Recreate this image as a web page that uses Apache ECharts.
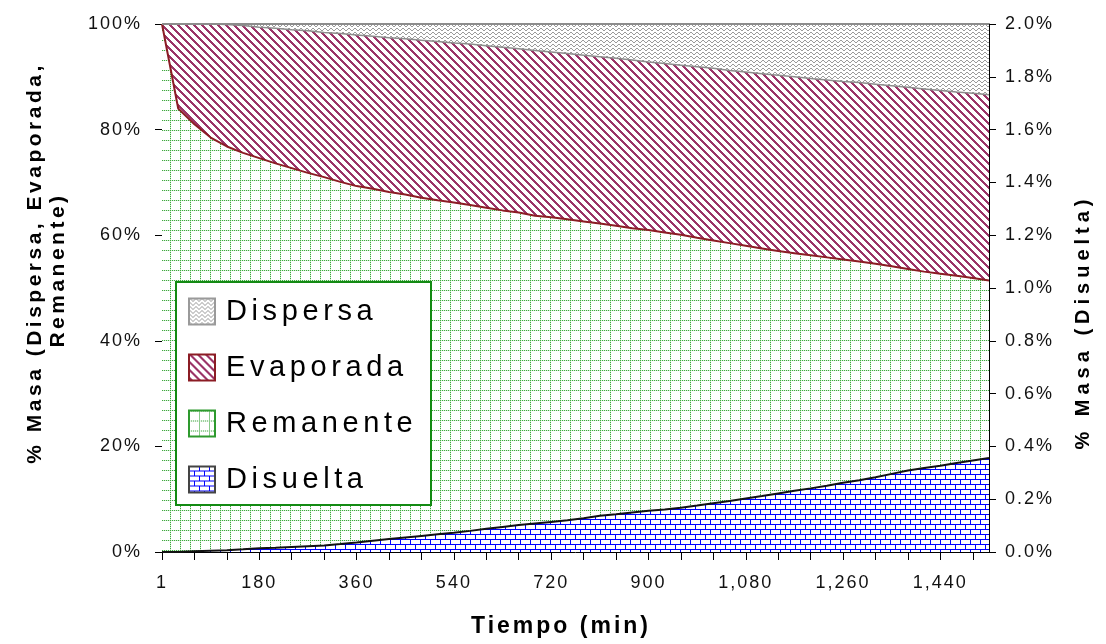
<!DOCTYPE html>
<html><head><meta charset="utf-8">
<script src="https://cdn.jsdelivr.net/npm/echarts@6/dist/echarts.min.js"></script>
<style>
html,body{margin:0;padding:0;background:#fff;}
#chart{width:1106px;height:644px;}
</style></head>
<body><div id="chart"></div>
<script>
// ---- data: time categories (min) and % of mass ----
const times = [1, 30, 60, 90, 120, 150, 180, 210, 240, 270, 300, 330, 360, 390, 420, 450, 480, 510, 540, 570, 600, 630, 660, 690, 720, 750, 780, 810, 840, 870, 900, 930, 960, 990, 1020, 1050, 1080, 1110, 1140, 1170, 1200, 1230, 1260, 1290, 1320, 1350, 1380, 1410, 1440, 1470, 1500, 1530];
const remanente = [100, 84.0, 81.0, 78.5, 76.8, 75.6, 74.6, 73.6, 72.7, 71.8, 71.0, 70.1, 69.3, 68.8, 68.2, 67.7, 67.1, 66.6, 66.2, 65.7, 65.2, 64.7, 64.3, 63.7, 63.4, 63.0, 62.6, 62.2, 61.8, 61.3, 61.0, 60.5, 60.1, 59.5, 59.0, 58.5, 58.0, 57.5, 57.0, 56.6, 56.2, 55.8, 55.4, 55.0, 54.6, 54.1, 53.6, 53.1, 52.7, 52.3, 51.9, 51.4];
const evaporada = [0, 16.0, 19.0, 21.5, 23.1, 24.1, 24.8, 25.6, 26.2, 26.9, 27.4, 28.1, 28.6, 28.9, 29.2, 29.5, 29.8, 30.1, 30.2, 30.5, 30.7, 30.9, 31.0, 31.3, 31.3, 31.4, 31.5, 31.6, 31.7, 31.9, 31.8, 32.0, 32.1, 32.4, 32.6, 32.7, 32.9, 33.1, 33.3, 33.4, 33.5, 33.6, 33.7, 33.9, 34.0, 34.2, 34.4, 34.6, 34.7, 34.8, 35.0, 35.2];
const dispersa = [0, 0, 0, 0, 0.1, 0.3, 0.6, 0.8, 1.1, 1.3, 1.6, 1.8, 2.1, 2.3, 2.6, 2.8, 3.1, 3.3, 3.6, 3.8, 4.1, 4.4, 4.7, 5.0, 5.3, 5.6, 5.9, 6.2, 6.5, 6.8, 7.2, 7.5, 7.8, 8.1, 8.4, 8.8, 9.1, 9.4, 9.7, 10.0, 10.3, 10.6, 10.9, 11.1, 11.4, 11.7, 12.0, 12.3, 12.6, 12.9, 13.1, 13.4];
const disuelta = [0, 0, 0.003, 0.005, 0.007, 0.010, 0.014, 0.016, 0.019, 0.022, 0.025, 0.030, 0.036, 0.043, 0.049, 0.055, 0.061, 0.067, 0.073, 0.080, 0.088, 0.095, 0.102, 0.108, 0.114, 0.120, 0.128, 0.137, 0.143, 0.150, 0.156, 0.161, 0.168, 0.176, 0.185, 0.193, 0.203, 0.212, 0.222, 0.232, 0.241, 0.251, 0.262, 0.272, 0.283, 0.296, 0.309, 0.318, 0.327, 0.337, 0.347, 0.356];
const xTitle = 'Tiempo (min)';
const yLeftTitle1 = '% Masa (Dispersa, Evaporada,';
const yLeftTitle2 = 'Remanente)';
const yRightTitle = '% Masa (Disuelta)';

const FF = 'Liberation Sans';

// wide letter spacing as in the original (applied per font size)
const LETTER_SPACING = { '18': 2, '29': 4.6, '21': 3.5, '23': 3, '20': 5 };
(function () {
  const proto = CanvasRenderingContext2D.prototype;
  const orig = proto.fillText;
  proto.fillText = function (text, x, y, maxW) {
    const m = /(\d+)px/.exec(this.font);
    const ls = m ? LETTER_SPACING[m[1]] : 0;
    if ('letterSpacing' in this) this.letterSpacing = (ls || 0) + 'px';
    const r = maxW === undefined ? orig.call(this, text, x, y) : orig.call(this, text, x, y, maxW);
    if ('letterSpacing' in this) this.letterSpacing = '0px';
    return r;
  };
})();

function tile(w, h, draw) {
  const c = document.createElement('canvas');
  c.width = w; c.height = h;
  const ctx = c.getContext('2d');
  ctx.fillStyle = '#ffffff';
  ctx.fillRect(0, 0, w, h);
  draw(ctx);
  return { image: c, repeat: 'repeat' };
}
const greenPat = tile(10, 10, ctx => {
  ctx.fillStyle = '#d6ecd6';
  for (let i = 1; i < 10; i += 2) { ctx.fillRect(i, 0, 1, 1); ctx.fillRect(0, i, 1, 1); }
  ctx.fillStyle = '#3ea83e';
  for (let i = 0; i < 10; i += 2) { ctx.fillRect(i, 0, 1, 1); ctx.fillRect(0, i, 1, 1); }
});
const maroonPat = tile(8, 8, ctx => {
  ctx.fillStyle = '#9b3468';
  for (let y = 0; y < 8; y++) for (let k = 0; k < 3; k++) ctx.fillRect((y + k) % 8, y, 1, 1);
});
const grayPat = tile(6, 4, ctx => {
  ctx.fillStyle = '#9a9a9a';
  const wy = [0, 0, 1, 2, 2, 1];
  for (let x = 0; x < 6; x++) ctx.fillRect(x, wy[x], 1, 1);
});
const bluePat = tile(10, 10, ctx => {
  ctx.fillStyle = '#0000ff';
  ctx.fillRect(0, 4, 10, 1); ctx.fillRect(0, 9, 10, 1);
  ctx.fillRect(0, 0, 1, 4); ctx.fillRect(5, 5, 1, 4);
});

const chart = echarts.init(document.getElementById('chart'), null, { renderer: 'canvas' });
chart.setOption({
  animation: false,
  backgroundColor: '#ffffff',
  grid: { left: 162, right: 117, top: 24, bottom: 92 },
  xAxis: {
    type: 'category', data: times, boundaryGap: false,
    axisLine: { lineStyle: { color: '#000', width: 1 } },
    axisTick: { length: 8, interval: 1, lineStyle: { color: '#000' } },
    axisLabel: {
      interval: 5,
      formatter: v => Number(v).toLocaleString('en-US'),
      fontSize: 18, fontFamily: FF, color: '#111', margin: 22
    },
    splitLine: { show: false }
  },
  yAxis: [
    {
      type: 'value', min: 0, max: 100, interval: 20, position: 'left',
      axisLine: { show: true, lineStyle: { color: '#000' } },
      axisTick: { show: true, length: 7, lineStyle: { color: '#000' } },
      axisLabel: { formatter: '{value}%', fontSize: 18, fontFamily: FF, color: '#111', margin: 20 },
      splitLine: { show: false }
    },
    {
      type: 'value', min: 0, max: 2, interval: 0.2, position: 'right',
      axisLine: { show: true, lineStyle: { color: '#000' } },
      axisTick: { show: true, length: 7, lineStyle: { color: '#000' } },
      axisLabel: { formatter: v => v.toFixed(1) + '%', fontSize: 18, fontFamily: FF, color: '#111', margin: 16 },
      splitLine: { show: false }
    },
    {
      type: 'value', min: 0, max: 2, interval: 0.2, position: 'right',
      axisLine: { show: false },
      axisTick: { show: true, inside: true, length: 7, lineStyle: { color: '#000' } },
      axisLabel: { show: false },
      splitLine: { show: false }
    }
  ],
  legend: {
    data: [
      { name: 'Dispersa', itemStyle: { color: grayPat, borderColor: '#9a9a9a', borderWidth: 2 } },
      { name: 'Evaporada', itemStyle: { color: maroonPat, borderColor: '#8b1c24', borderWidth: 2 } },
      { name: 'Remanente', itemStyle: { color: greenPat, borderColor: '#2e9a2e', borderWidth: 2 } },
      { name: 'Disuelta', itemStyle: { color: bluePat, borderColor: '#444', borderWidth: 2 } }
    ],
    orient: 'vertical', left: 188, top: 297, padding: 0,
    icon: 'rect', itemWidth: 26, itemHeight: 26, itemGap: 27,
    textStyle: { fontSize: 29, fontFamily: FF, color: '#000', padding: [0, 0, 0, 6] },
    selectedMode: false, z: 6
  },
  graphic: [
    { type: 'rect', z: 5, shape: { x: 176, y: 282, width: 255, height: 223 }, style: { fill: '#fff', stroke: '#138a13', lineWidth: 2 } },
    { type: 'text', x: 35, y: 263, rotation: Math.PI / 2, style: { text: yLeftTitle1, font: 'bold 21px ' + FF, fill: '#000', align: 'center', verticalAlign: 'middle', textAlign: 'center', textVerticalAlign: 'middle' } },
    { type: 'text', x: 58, y: 270, rotation: Math.PI / 2, style: { text: yLeftTitle2, font: 'bold 21px ' + FF, fill: '#000', align: 'center', verticalAlign: 'middle', textAlign: 'center', textVerticalAlign: 'middle' } },
    { type: 'text', x: 1083, y: 322, rotation: Math.PI / 2, style: { text: yRightTitle, font: 'bold 20px ' + FF, fill: '#000', align: 'center', verticalAlign: 'middle', textAlign: 'center', textVerticalAlign: 'middle' } },
    { type: 'text', x: 561, y: 627, style: { text: xTitle, font: 'bold 23px ' + FF, fill: '#000', align: 'center', verticalAlign: 'middle', textAlign: 'center', textVerticalAlign: 'middle' } }
  ],
  series: [
    { name: 'Remanente', type: 'line', stack: 'masa', yAxisIndex: 0, data: remanente, symbol: 'none', showSymbol: false,
      lineStyle: { color: '#8b1c24', width: 2 }, itemStyle: { color: greenPat }, areaStyle: { color: greenPat, opacity: 1 }, z: 2 },
    { name: 'Evaporada', type: 'line', stack: 'masa', yAxisIndex: 0, data: evaporada, symbol: 'none', showSymbol: false,
      lineStyle: { color: '#8c8c8c', width: 1.5 }, itemStyle: { color: maroonPat }, areaStyle: { color: maroonPat, opacity: 1 }, z: 2 },
    { name: 'Dispersa', type: 'line', stack: 'masa', yAxisIndex: 0, data: dispersa, symbol: 'none', showSymbol: false,
      lineStyle: { color: '#8c8c8c', width: 2 }, itemStyle: { color: grayPat }, areaStyle: { color: grayPat, opacity: 1 }, z: 2 },
    { name: 'Disuelta', type: 'line', yAxisIndex: 1, data: disuelta, symbol: 'none', showSymbol: false,
      lineStyle: { color: '#111', width: 2 }, itemStyle: { color: bluePat }, areaStyle: { color: bluePat, opacity: 1 }, z: 3 }
  ]
});
</script>
</body></html>
